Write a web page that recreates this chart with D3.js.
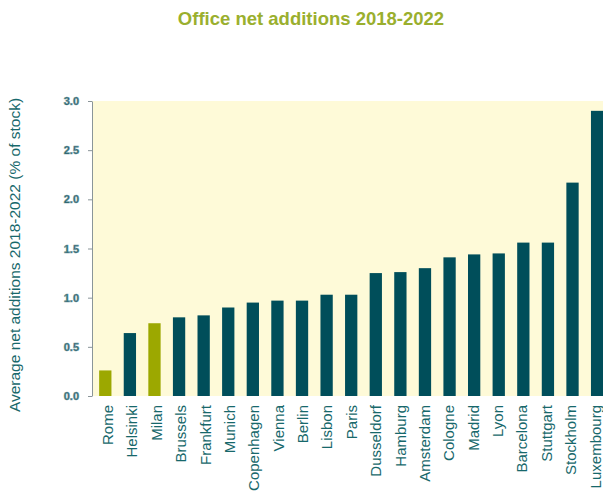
<html>
<head>
    <script src="https://d3js.org/d3.v7.min.js"></script>
    <style>
        body { margin: 0; background: #ffffff; }
        svg { font-family: "Liberation Sans", Arial, sans-serif; }
    </style>
</head>
<body>
    <svg id="chart" width="603" height="497"></svg>
    <script>
        // values
        const cities = ["Rome", "Helsinki", "Milan", "Brussels", "Frankfurt", "Munich", "Copenhagen",
            "Vienna", "Berlin", "Lisbon", "Paris", "Dusseldorf", "Hamburg", "Amsterdam", "Cologne",
            "Madrid", "Lyon", "Barcelona", "Stuttgart", "Stockholm", "Luxembourg"];
        const additions = [0.26, 0.64, 0.74, 0.80, 0.82, 0.90, 0.95, 0.97, 0.97, 1.03, 1.03,
            1.25, 1.26, 1.30, 1.41, 1.44, 1.45, 1.56, 1.56, 2.17, 2.90];
        const highlighted = ["Rome", "Milan"];
        const yTicks = [0, 0.5, 1.0, 1.5, 2.0, 2.5, 3.0];

        const data = cities.map((c, i) => ({city: c, value: additions[i]}));

        const svg = d3.select("#chart");
        const plotLeft = 92, plotTop = 101, plotBottom = 396;

        const xScale = d3.scaleBand().domain(cities)
            .range([93, 609.4])
            .paddingInner(0.5)
            .paddingOuter(0.25);
        // labels sit on a slightly tighter spacing than the bars
        const labelScale = d3.scalePoint().domain(cities).range([113, 600.5]);
        const yScale = d3.scaleLinear().domain([0, 3]).range([plotBottom, plotTop]);

        // plot background
        svg.append("rect")
            .attr("x", plotLeft).attr("y", plotTop)
            .attr("width", 603 - plotLeft).attr("height", plotBottom - plotTop)
            .attr("fill", "#fefad8");

        // bars
        svg.selectAll("rect.bar").data(data)
            .join("rect")
            .attr("class", "bar")
            .attr("x", d => xScale(d.city))
            .attr("width", xScale.bandwidth())
            .attr("y", d => yScale(d.value))
            .attr("height", d => yScale(0) - yScale(d.value))
            .attr("fill", d => highlighted.includes(d.city) ? "#9ca800" : "#004e5a");

        // y axis
        const yAxis = svg.append("g")
            .attr("transform", `translate(${plotLeft},0)`)
            .call(d3.axisLeft(yScale).tickValues(yTicks).tickFormat(d3.format(".1f"))
                .tickSize(4).tickSizeOuter(0).tickPadding(9));
        yAxis.select(".domain").attr("stroke", "#8a9599");
        yAxis.selectAll(".tick line").attr("stroke", "#8a9599");
        yAxis.selectAll(".tick text")
            .attr("fill", "#1a5560")
            .attr("stroke", "#6f9aa0")
            .attr("stroke-width", 0.6)
            .style("font-size", "11px")
            .style("font-weight", "bold");

        // city labels
        svg.selectAll("text.city").data(data)
            .join("text")
            .attr("class", "city")
            .attr("transform", d => `translate(${labelScale(d.city)},405) rotate(-90)`)
            .attr("text-anchor", "end")
            .attr("fill", "#17686b")
            .style("font-size", "15px")
            .text(d => d.city);

        // y axis title
        svg.append("text")
            .attr("transform", "translate(20,255) rotate(-90)")
            .attr("text-anchor", "middle")
            .attr("fill", "#17686b")
            .style("font-size", "15.5px")
            .text("Average net additions 2018-2022 (% of stock)");

        // title
        svg.append("text")
            .attr("x", 311).attr("y", 25)
            .attr("text-anchor", "middle")
            .attr("fill", "#9aaf2e")
            .style("font-size", "18.5px")
            .style("font-weight", "bold")
            .text("Office net additions 2018-2022");
    </script>
</body>
</html>
